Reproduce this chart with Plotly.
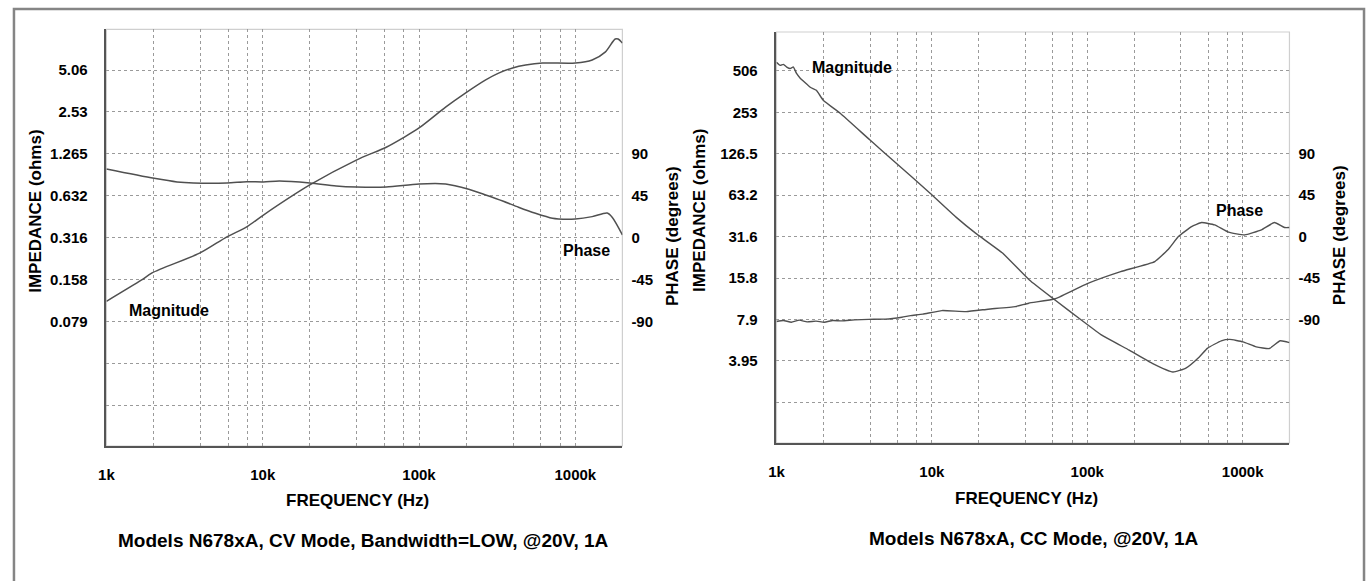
import plotly.graph_objects as go
import math

W, H = 1367, 581

# ---------------- data: left panel (CV mode) ----------------
cv_mag_freq = [1000, 1670, 1960, 3970, 5900, 7900, 10100, 20000, 39700, 61700, 80000, 100000,
               148600, 199000, 267000, 323000, 397000, 481000, 617000, 1000000, 1282000,
               1552000, 1798000, 1879000, 2000000]
cv_mag_val = [0.110, 0.156, 0.176, 0.245, 0.320, 0.377, 0.459, 0.755, 1.14, 1.41, 1.66, 1.94,
              2.75, 3.47, 4.30, 4.81, 5.23, 5.49, 5.68, 5.68, 5.97,
              6.80, 8.46, 8.46, 7.90]

cv_ph_freq = [1000, 2020, 2830, 3600, 5900, 7900, 10100, 12800, 20000, 29500, 39700, 61700,
              100000, 148000, 208000, 267000, 343000, 433000, 556000, 714000, 780000,
              1000000, 1282000, 1600000, 1721000, 2000000]
cv_ph_val = [73.8, 63.8, 59.9, 58.8, 58.8, 60.2, 59.9, 60.9, 58.8, 55.6, 54.5, 54.5,
             57.7, 57.7, 52.0, 45.9, 39.4, 32.7, 26.2, 20.8, 20.1,
             20.1, 22.6, 26.5, 22.0, 3.0]

# ---------------- data: right panel (CC mode) ----------------
cc_mag_freq = [1000, 1056, 1108, 1164, 1224, 1285, 1343, 1413, 1650, 1805, 2000, 2570, 4000,
               5900, 9700, 14300, 19100, 28500, 42400, 62300, 91500, 124000, 186000, 262000,
               356000, 431000, 526000, 595000, 728000, 826000, 1006000, 1223000, 1483000,
               1744000, 2000000]
cc_mag_val = [585, 555, 565, 540, 527, 540, 487, 452, 385, 366, 310, 249, 159,
              108, 65.6, 43.8, 33.5, 24.0, 15.3, 10.9, 7.84, 6.08, 4.73, 3.79,
              3.28, 3.50, 4.22, 4.89, 5.53, 5.66, 5.43, 5.00, 4.86,
              5.53, 5.37]

cc_ph_freq = [1000, 1108, 1247, 1401, 1574, 1795, 2034, 2301, 2632, 3184, 3913, 5007, 6411,
              7285, 8750, 11610, 16600, 23000, 34400, 42000, 62300, 100000, 164000,
              272000, 330000, 386000, 469000, 544000, 660000, 810000, 1030000, 1320000,
              1600000, 1860000, 2000000]
cc_ph_val = [-92.2, -91.1, -92.9, -90.7, -92.6, -91.8, -92.9, -91.1, -91.5, -90.4, -89.8,
             -89.6, -87.5, -85.8, -84.2, -80.3, -81.4, -78.8, -76.0, -72.3, -67.5,
             -51.0, -38.0, -27.1, -14.4, 0.0, 10.9, 15.2, 12.7, 4.8, 1.8, 7.3,
             15.2, 9.8, 9.8]

# ---------------- tick labels ----------------
freq_tickvals = [1000, 2000, 4000, 6000, 8000, 10000, 20000, 40000, 60000, 80000,
                 100000, 200000, 400000, 600000, 800000, 1000000]
freq_ticktext = ["1k", "", "", "", "", "10k", "", "", "", "", "100k", "", "", "", "", "1000k"]

cv_imp_tickvals = [0.01975, 0.0395, 0.079, 0.158, 0.316, 0.632, 1.265, 2.53, 5.06]
cv_imp_ticktext = ["", "", "0.079", "0.158", "0.316", "0.632", "1.265", "2.53", "5.06"]

cc_imp_tickvals = [1.975, 3.95, 7.9, 15.8, 31.6, 63.2, 126.5, 253, 506]
cc_imp_ticktext = ["", "3.95", "7.9", "15.8", "31.6", "63.2", "126.5", "253", "506"]

phase_tickvals = [-90, -45, 0, 45, 90]
phase_ticktext = ["-90", "-45", "0", "45", "90"]

captions = ["Models N678xA, CV Mode, Bandwidth=LOW, @20V, 1A",
            "Models N678xA, CC Mode, @20V, 1A"]

# ---------------- styling ----------------
FONT = "Liberation Sans, Arial, Helvetica, sans-serif"
LINE_COL = "#505050"
GRID_COL = "#9a9a9a"
AXIS_COL = "#555555"
BORDER_COL = "#cfcfcf"

def px(x):
    return x / W

def py(y):
    return 1 - y / H

L = dict(x0=99, x1=618, y0=29.3, y1=446)
R = dict(x0=773, x1=1289, y0=32, y1=443)

fig = go.Figure()

line_style = dict(color=LINE_COL, width=1.5, shape="spline", smoothing=0.8)
fig.add_trace(go.Scatter(x=cv_mag_freq, y=cv_mag_val, mode="lines", line=line_style,
                         xaxis="x", yaxis="y", showlegend=False, hoverinfo="skip"))
fig.add_trace(go.Scatter(x=cv_ph_freq, y=cv_ph_val, mode="lines", line=line_style,
                         xaxis="x", yaxis="y2", showlegend=False, hoverinfo="skip"))
fig.add_trace(go.Scatter(x=cc_mag_freq, y=cc_mag_val, mode="lines",
                         line=dict(color=LINE_COL, width=1.4, shape="spline", smoothing=0.4),
                         xaxis="x2", yaxis="y3", showlegend=False, hoverinfo="skip"))
fig.add_trace(go.Scatter(x=cc_ph_freq, y=cc_ph_val, mode="lines",
                         line=dict(color=LINE_COL, width=1.4, shape="spline", smoothing=0.4),
                         xaxis="x2", yaxis="y4", showlegend=False, hoverinfo="skip"))

tickfont = dict(family=FONT, size=15, color="black", weight="bold")

def xaxis(dom, anchor):
    return dict(type="log", domain=dom, anchor=anchor, range=[3, math.log10(2e6)],
                tickvals=freq_tickvals, ticktext=freq_ticktext, ticks="",
                showgrid=True, gridcolor=GRID_COL, gridwidth=1, griddash="dot",
                showline=True, linecolor=AXIS_COL, linewidth=1.5, zeroline=False,
                tickfont=tickfont, ticklabelstandoff=14, fixedrange=True)

def yaxis_log(dom, anchor, rng, tv, tt):
    return dict(type="log", domain=dom, anchor=anchor, range=rng,
                tickvals=tv, ticktext=tt, ticks="",
                showgrid=True, gridcolor=GRID_COL, gridwidth=1, griddash="dot",
                showline=True, linecolor=AXIS_COL, linewidth=1.5, zeroline=False,
                tickfont=tickfont, ticklabelstandoff=14, fixedrange=True)

def yaxis_phase(overlay, anchor, rng):
    return dict(overlaying=overlay, anchor=anchor, side="right", range=rng,
                tickvals=phase_tickvals, ticktext=phase_ticktext, ticks="",
                showgrid=False, showline=False, zeroline=False,
                tickfont=tickfont, ticklabelstandoff=8, fixedrange=True)

fig.update_layout(
    width=W, height=H,
    margin=dict(l=0, r=0, t=0, b=0),
    paper_bgcolor="white", plot_bgcolor="white",
    showlegend=False,
    xaxis=xaxis([px(L["x0"]), px(L["x1"])], "y"),
    yaxis=yaxis_log([py(L["y1"]), py(L["y0"])], "x", [-1.9987, 0.9969],
                    cv_imp_tickvals, cv_imp_ticktext),
    yaxis2=yaxis_phase("y", "x", [-224, 224]),
    xaxis2=xaxis([px(R["x0"]), px(R["x1"])], "y3"),
    yaxis3=yaxis_log([py(R["y1"]), py(R["y0"])], "x2", [0.0, 2.987],
                     cc_imp_tickvals, cc_imp_ticktext),
    yaxis4=yaxis_phase("y3", "x2", [-224, 222]),
)

# light border on top/right of plot areas
for P in (L, R):
    fig.add_shape(type="rect", xref="paper", yref="paper",
                  x0=px(P["x0"]), x1=px(P["x1"]), y0=py(P["y1"]), y1=py(P["y0"]),
                  line=dict(color=BORDER_COL, width=1.2), layer="below")

# outer frame (top, left, right)
fig.add_shape(type="path", xref="paper", yref="paper",
              path=f"M {px(6)} {py(583)} L {px(6)} {py(9)} L {px(1364)} {py(9)} L {px(1364)} {py(583)}",
              line=dict(color="#858585", width=2.5))

def ann(text, x, y, size, bold=True, angle=0):
    fig.add_annotation(text=text, xref="paper", yref="paper", x=px(x), y=py(y),
                       xanchor="center", yanchor="middle", showarrow=False,
                       textangle=angle,
                       font=dict(family=FONT, size=size, color="black",
                                 weight="bold" if bold else "normal"))

# axis titles
ann("IMPEDANCE (ohms)", 27, 211, 17, angle=-90)
ann("PHASE (degrees)", 668, 236, 17, angle=-90)
ann("IMPEDANCE (ohms)", 695, 210, 17, angle=-90)
ann("PHASE (degrees)", 1340, 235, 17, angle=-90)
ann("FREQUENCY (Hz)", 352, 500, 17)
ann("FREQUENCY (Hz)", 1024, 498, 17)

# curve labels
ann("Magnitude", 162, 310, 16)
ann("Phase", 582, 250, 16)
ann("Magnitude", 849, 67, 16)
ann("Phase", 1239, 210, 16)

# captions
ann(captions[0], 358, 540, 19)
ann(captions[1], 1032, 538, 19)

fig.write_html(
    "out.html",
    config={"displayModeBar": False},
    post_script="document.body.style.margin='0px';document.body.style.overflow='hidden';",
)
